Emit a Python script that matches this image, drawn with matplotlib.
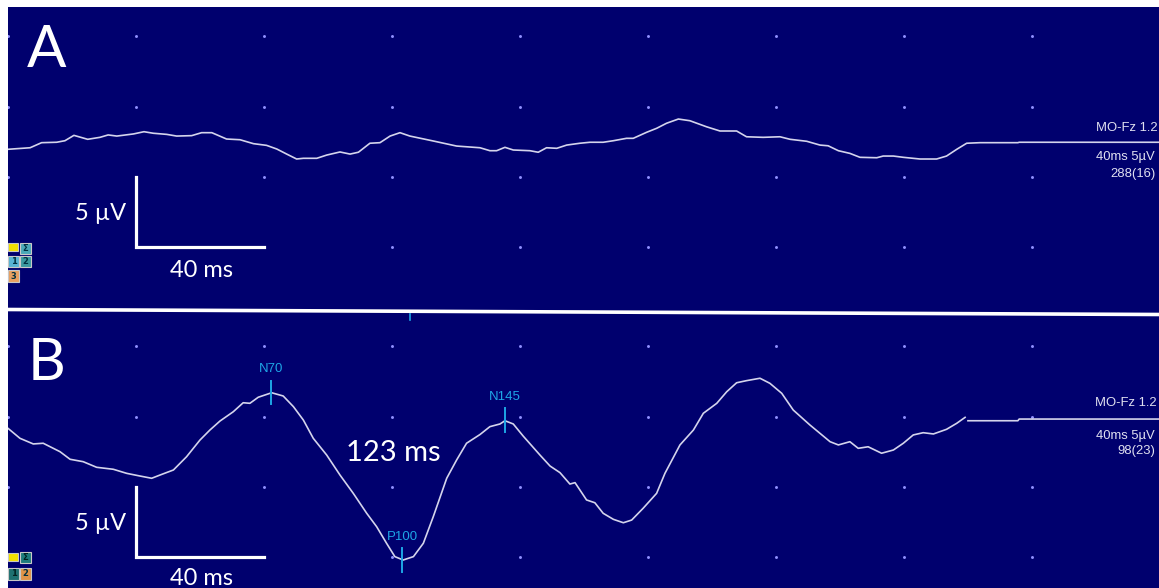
import matplotlib
matplotlib.use("Agg")
import matplotlib.pyplot as plt
from matplotlib.lines import Line2D
from matplotlib.patches import Rectangle

# VEP traces, time in ms, amplitude in uV (negative plotted upward)
tA = [0, 6.9, 10.5, 15.2, 17.8, 20.6, 24.9, 28.75, 31.3, 34.0, 39.2, 42.5, 45.4, 49.6,
      52.7, 57.4, 60.5, 63.7, 68.3, 72.5, 76.7, 80.8, 84.0, 87.1, 90.2, 92.3, 96.5, 99.6,
      103.75, 106.9, 109.5, 113.1, 116.25, 119.4, 122.5, 125.6, 132.9, 140.2, 147.5, 150.6,
      152.7, 155.3, 157.9, 163.1, 165.7, 168.3, 171.5, 174.6, 178.75, 181.9, 186.0, 189.2,
      193.3, 195.4, 199.6, 202.7, 205.8, 209.5, 213.1, 218.3, 222.5, 227.7, 230.8, 236.0,
      241.25, 244.4, 249.6, 253.75, 256.3, 259.5, 263.1, 266.25, 271.5, 273.5, 276.7, 279.8,
      285.0, 290.2, 293.3, 296.5, 299.6, 303.75, 315.6, 316.0, 360.0]
vA = [-1.97, -2.08, -2.44, -2.47, -2.58, -2.96, -2.68, -2.82, -2.99, -2.91, -3.06, -3.22,
      -3.11, -3.03, -2.91, -2.94, -3.15, -3.15, -2.70, -2.65, -2.37, -2.25, -1.99, -1.63,
      -1.28, -1.33, -1.33, -1.56, -1.78, -1.63, -1.76, -2.40, -2.44, -2.91, -3.15, -2.91,
      -2.56, -2.20, -2.08, -1.87, -1.87, -2.11, -1.92, -1.87, -1.76, -2.08, -2.04, -2.27,
      -2.40, -2.47, -2.47, -2.58, -2.75, -2.75, -3.18, -3.46, -3.82, -4.12, -4.00, -3.57,
      -3.27, -3.27, -2.86, -2.82, -2.86, -2.68, -2.54, -2.27, -2.22, -1.87, -1.68, -1.40,
      -1.37, -1.49, -1.49, -1.40, -1.28, -1.28, -1.49, -1.97, -2.40, -2.44, -2.44, -2.47, -2.47]

tB = [0, 3.75, 7.9, 11.0, 16.25, 19.4, 23.5, 27.7, 32.9, 37.1, 41.25, 44.9, 47.5, 51.7,
      55.8, 60.0, 63.1, 66.25, 70.4, 73.5, 75.6, 78.2, 82.4, 86.0, 89.2, 92.3, 95.4, 99.6,
      103.75, 107.9, 112.1, 115.2, 118.3, 120.9, 123.5, 126.7, 129.8, 132.9, 137.1, 140.2,
      143.3, 147.5, 150.6, 153.75, 155.3, 157.9, 161.0, 166.25, 169.4, 172.5, 175.6, 177.2,
      180.8, 183.4, 186.0, 189.2, 192.3, 194.9, 198.5, 202.7, 205.3, 210.0, 214.2, 217.3,
      221.5, 224.6, 227.7, 230.8, 235.0, 238.1, 241.8, 245.4, 250.6, 256.9, 259.5, 263.1,
      265.7, 268.8, 273.0, 276.7, 279.8, 282.9, 286.0, 289.2, 293.3, 296.5, 299.1]
vB = [-4.17, -3.46, -3.06, -3.11, -2.51, -1.97, -1.80, -1.40, -1.26, -0.97, -0.78, -0.62,
      -0.85, -1.21, -2.15, -3.34, -4.05, -4.69, -5.35, -5.99, -5.95, -6.38, -6.70, -6.47,
      -5.71, -4.76, -3.46, -2.27, -0.85, 0.45, 1.87, 2.82, 4.00, 4.95, 5.19, 4.95, 4.00,
      2.11, -0.62, -1.92, -3.11, -3.73, -4.29, -4.48, -4.71, -4.48, -3.62, -2.27, -1.49,
      -1.02, -0.21, -0.31, 0.92, 1.12, 1.87, 2.30, 2.54, 2.35, 1.51, 0.45, -0.97, -2.99,
      -4.05, -5.24, -5.95, -6.77, -7.41, -7.56, -7.73, -7.37, -6.66, -5.47, -4.41, -3.22,
      -2.99, -3.22, -2.75, -2.86, -2.40, -2.63, -3.11, -3.70, -3.86, -3.77, -4.10, -4.53, -4.95]
# flat tail of trace B after the sweep
tB_tail = [300.0, 315.6, 316.0, 360.0]
vB_tail = [-4.71, -4.71, -4.83, -4.83]

peak_names = ["N70", "P100", "N145"]
peak_t = [82.1, 123.2, 155.4]
peak_v = [-6.72, 5.19, -4.75]

grid_t = [0, 40, 80, 120, 160, 200, 240, 280, 320]
grid_v = [-10, -5, 0, 5]

info_A = ["MO-Fz 1.2", "40ms 5\u00b5V", "288(16)"]
info_B = ["MO-Fz 1.2", "40ms 5\u00b5V", "98(23)"]

W, H = 1159, 588
navy = "#00006e"
trace_col = "#d4d4ec"
cyan = "#1ea6e6"
font = ["Lato", "DejaVu Sans"]

fig = plt.figure(figsize=(W / 100, H / 100), dpi=100, facecolor="white")


def px(x, y):
    # pixel position -> figure fraction
    return x / W, 1 - y / H


def make_ax(top, bottom, ylo, yhi):
    ax = fig.add_axes([8 / W, 1 - bottom / H, 1 - 8 / W, (bottom - top) / H])
    ax.set_facecolor(navy)
    ax.set_xlim(0, 359.7)
    ax.set_ylim(ylo, yhi)
    ax.set_xticks([])
    ax.set_yticks([])
    for s in ax.spines.values():
        s.set_visible(False)
    gx = [t for t in grid_t for v in grid_v]
    gy = [v for t in grid_t for v in grid_v]
    ax.scatter(gx, gy, s=4.5, color="#9090ff", linewidths=0, zorder=1)
    # scale bars 40 ms x 5 uV
    ax.plot([40, 40, 80], [0, 5, 5], color="white", lw=2.3, solid_joinstyle="miter", zorder=3)
    return ax


axA = make_ax(7, 312, 9.59, -12.08)
axB = make_ax(312, 588, 7.18, -12.44)

axA.plot(tA, vA, color=trace_col, lw=1.2, zorder=2)
axB.plot(tB, vB, color=trace_col, lw=1.2, zorder=2)
axB.plot(tB_tail, vB_tail, color=trace_col, lw=1.2, zorder=2)

for ax, lab, ly in [(axA, "A", -9.0), (axB, "B", -8.8)]:
    ax.text(11.9, ly, lab, color="white", fontsize=42, family=font, ha="center", va="center")

for ax, y_uv, y_ms in [(axA, 2.56, 6.61), (axB, 2.56, 6.47)]:
    ax.text(28.8, y_uv, "5 \u00b5V", color="white", fontsize=17, family=font, ha="center", va="center")
    ax.text(60.6, y_ms, "40 ms", color="white", fontsize=17, family=font, ha="center", va="center")

axB.text(120.3, -2.42, "123 ms", color="white", fontsize=21, family=font, ha="center", va="center")

# peak markers
for name, t, v in zip(peak_names, peak_t, peak_v):
    axB.plot([t, t], [v - 0.84, v + 0.84], color=cyan, lw=1.4, zorder=4)
    axB.text(t, v - 1.67, name, color=cyan, fontsize=9.5, family="Liberation Sans",
             ha="center", va="center")
axB.plot([125.6, 125.6], [-12.3, -11.9], color=cyan, lw=1.2)

# right side channel info
for ax, info, ys, xs in [(axA, info_A, [-3.48, -1.42, -0.21], [340.0, 340.0, 344.4]),
                         (axB, info_B, [-5.97, -3.62, -2.56], [339.8, 340.0, 346.6])]:
    for s, y, x in zip(info, ys, xs):
        ax.text(x, y, s, color="#e0e0f0", fontsize=9.4, family="Liberation Sans",
                ha="left", va="center")

# separator between the two sweeps
x0, y0 = px(8, 309.5)
x1, y1 = px(W, 314.5)
fig.add_artist(Line2D([x0, x1], [y0, y1], transform=fig.transFigure, color="white", lw=2.6))


# small channel icons at the left edge
def icon(x, y, w, h, face, label=None, tcol="#003040"):
    fx, fy = px(x, y + h)
    r = Rectangle((fx, fy), w / W, h / H, transform=fig.transFigure, facecolor=face,
                  edgecolor="#c8c8c8", lw=0.8)
    fig.add_artist(r)
    if label:
        cx, cy = px(x + w / 2, y + h / 2)
        fig.text(cx, cy, label, fontsize=6, color=tcol, ha="center", va="center", weight="bold")


icon(8, 243, 10, 8, "#f2e000")
icon(20, 243, 11, 11, "#4aa8b8", "\u03a3")
icon(8, 256, 11, 11, "#58b4d4", "1")
icon(20, 256, 11, 11, "#3a9aa0", "2")
icon(8, 270, 11, 12, "#e8a060", "3")

icon(8, 553, 10, 8, "#f2e000")
icon(20, 552, 11, 11, "#1e7c7c", "\u03a3", "#002020")
icon(8, 568, 11, 12, "#1e7070", "1", "#002020")
icon(20, 568, 11, 12, "#e09448", "2")

fig.savefig("out.png", dpi=100, facecolor="white")
